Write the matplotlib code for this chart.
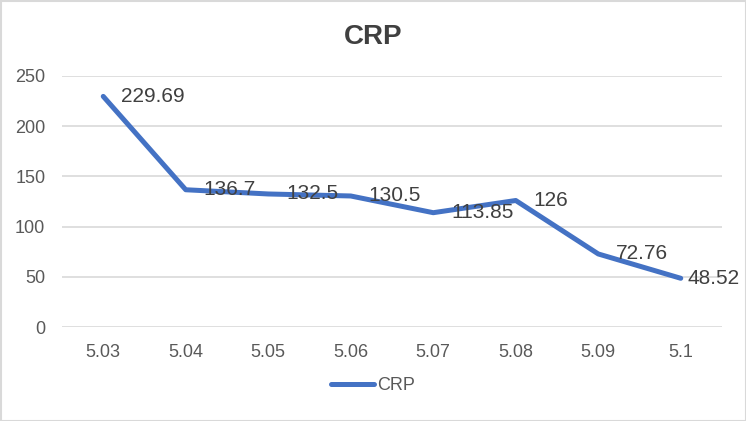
import matplotlib.pyplot as plt
from matplotlib.patches import Rectangle

plt.rcParams['font.family'] = ['Liberation Sans', 'DejaVu Sans']

# datos
fechas = ['5.03', '5.04', '5.05', '5.06', '5.07', '5.08', '5.09', '5.1']
crp = [229.69, 136.7, 132.5, 130.5, 113.85, 126, 72.76, 48.52]
etiquetas = ['229.69', '136.7', '132.5', '130.5', '113.85', '126', '72.76', '48.52']

W, H = 746, 421
fig = plt.figure(figsize=(W / 100, H / 100), dpi=100)
fig.patch.set_facecolor('white')
ax = fig.add_axes([62 / W, 1 - 327 / H, 660 / W, 251 / H])

xs = list(range(len(fechas)))
ax.plot(xs, crp, color='#4472C4', lw=3.6, solid_capstyle='round',
        solid_joinstyle='round', label='CRP', zorder=3)

for i, (x, v, t) in enumerate(zip(xs, crp, etiquetas)):
    # la ultima etiqueta se corre para que entre en el grafico
    dx = 4.5 if i == len(xs) - 1 else 13
    ax.annotate(t, (x, v), xytext=(dx, 0), textcoords='offset points',
                ha='left', va='center', fontsize=15, color='#404040',
                zorder=4, annotation_clip=False)

ax.set_xlim(-0.5, len(fechas) - 0.5)
ax.set_ylim(0, 250)
ax.set_yticks([0, 50, 100, 150, 200, 250])
ax.set_xticks(xs)
ax.set_xticklabels(fechas)
ax.tick_params(axis='both', length=0, labelsize=13, labelcolor='#595959')
ax.tick_params(axis='x', pad=12)
ax.tick_params(axis='y', pad=12)
ax.grid(axis='y', color='#D9D9D9', lw=1.2)
ax.set_axisbelow(True)
for s in ax.spines.values():
    s.set_visible(False)

fig.text(0.5, 1 - 37 / H, 'CRP', ha='center', va='center', fontsize=20,
         fontweight='bold', color='#404040')

fig.legend(loc='center', bbox_to_anchor=(0.5, 1 - 386 / H), frameon=False,
           fontsize=13, labelcolor='#595959', handlelength=2.4,
           handletextpad=0.2)

fig.patches.append(Rectangle((0.5 / W, 0.5 / H), 1 - 1 / W, 1 - 1 / H,
                             transform=fig.transFigure, fill=False,
                             edgecolor='#D9D9D9', lw=1.5))

fig.savefig('out.png', dpi=100)
